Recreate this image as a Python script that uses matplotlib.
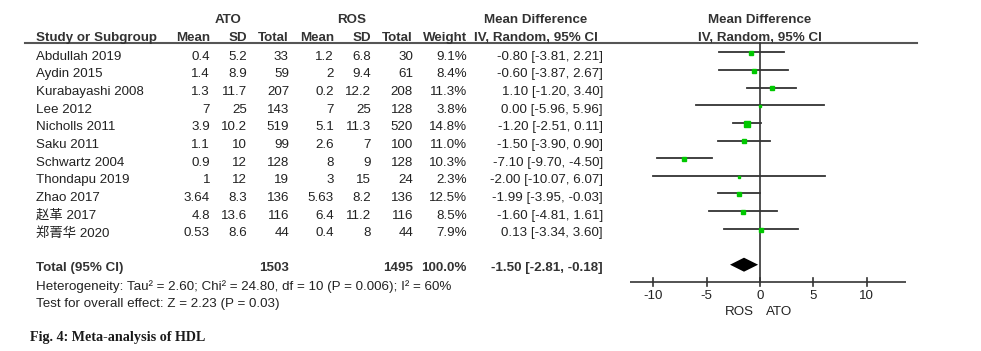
import numpy as np
import matplotlib
matplotlib.use("Agg")
import matplotlib.pyplot as plt

plt.rcParams["font.family"] = ["Liberation Sans", "Noto Sans CJK SC", "DejaVu Sans"]

studies = ["Abdullah 2019", "Aydin 2015", "Kurabayashi 2008", "Lee 2012", "Nicholls 2011",
           "Saku 2011", "Schwartz 2004", "Thondapu 2019", "Zhao 2017", "赵革 2017", "郑菁华 2020"]
ato_mean = ["0.4", "1.4", "1.3", "7", "3.9", "1.1", "0.9", "1", "3.64", "4.8", "0.53"]
ato_sd = ["5.2", "8.9", "11.7", "25", "10.2", "10", "12", "12", "8.3", "13.6", "8.6"]
ato_n = [33, 59, 207, 143, 519, 99, 128, 19, 136, 116, 44]
ros_mean = ["1.2", "2", "0.2", "7", "5.1", "2.6", "8", "3", "5.63", "6.4", "0.4"]
ros_sd = ["6.8", "9.4", "12.2", "25", "11.3", "7", "9", "15", "8.2", "11.2", "8"]
ros_n = [30, 61, 208, 128, 520, 100, 128, 24, 136, 116, 44]
weight = [9.1, 8.4, 11.3, 3.8, 14.8, 11.0, 10.3, 2.3, 12.5, 8.5, 7.9]
md = [-0.80, -0.60, 1.10, 0.00, -1.20, -1.50, -7.10, -2.00, -1.99, -1.60, 0.13]
lo = [-3.81, -3.87, -1.20, -5.96, -2.51, -3.90, -9.70, -10.07, -3.95, -4.81, -3.34]
hi = [2.21, 2.67, 3.40, 5.96, 0.11, 0.90, -4.50, 6.07, -0.03, 1.61, 3.60]
total_md, total_lo, total_hi = -1.50, -2.81, -0.18
total_ato, total_ros = 1503, 1495
ticks = [-10, -5, 0, 5, 10]

W, H = 981, 351
fig = plt.figure(figsize=(W / 100, H / 100), dpi=100)
ax = fig.add_axes([0, 0, 1, 1])
ax.set_xlim(0, W)
ax.set_ylim(H, 0)
ax.axis("off")

# forest panel: 0 -> px 760, 10 units -> 106.7 px
x0, x1 = 630, 906
scale = 10.67
fa = fig.add_axes([x0 / W, 0, (x1 - x0) / W, 1])
fa.set_xlim((x0 - 760) / scale, (x1 - 760) / scale)
fa.set_ylim(H, 0)
fa.axis("off")

tc = "#222222"
fs = 9.6
kw = dict(color=tc, fontsize=fs, va="center")
bk = dict(color="#333333", fontsize=fs, va="center", fontweight="bold")

# headers
ax.text(228, 20, "ATO", ha="center", **bk)
ax.text(352, 20, "ROS", ha="center", **bk)
ax.text(536, 20, "Mean Difference", ha="center", **bk)
ax.text(760, 20, "Mean Difference", ha="center", **bk)
hy = 38
ax.text(36, hy, "Study or Subgroup", ha="left", **bk)
for x, s in [(210, "Mean"), (247, "SD"), (289, "Total"), (334, "Mean"),
             (371, "SD"), (413, "Total"), (467, "Weight")]:
    ax.text(x, hy, s, ha="right", **bk)
ax.text(536, hy, "IV, Random, 95% CI", ha="center", **bk)
ax.text(760, hy, "IV, Random, 95% CI", ha="center", **bk)
ax.plot([25, 917], [43, 43], color="#555555", lw=1.5)

row0, step = 56.7, 17.66
for i, name in enumerate(studies):
    y = row0 + i * step
    ax.text(36, y, name, ha="left", **kw)
    ax.text(210, y, ato_mean[i], ha="right", **kw)
    ax.text(247, y, ato_sd[i], ha="right", **kw)
    ax.text(289, y, str(ato_n[i]), ha="right", **kw)
    ax.text(334, y, ros_mean[i], ha="right", **kw)
    ax.text(371, y, ros_sd[i], ha="right", **kw)
    ax.text(413, y, str(ros_n[i]), ha="right", **kw)
    ax.text(467, y, f"{weight[i]:.1f}%", ha="right", **kw)
    ax.text(603, y, f"{md[i]:.2f} [{lo[i]:.2f}, {hi[i]:.2f}]", ha="right", **kw)
    fy = y - 4.5
    fa.plot([lo[i], hi[i]], [fy, fy], color="#333333", lw=1.3)
    side = 1.35 * np.sqrt(weight[i]) * 0.72
    fa.plot(md[i], fy + 0.8, marker="s", ms=side, color="#00c800", mec="#00c800", zorder=3)

ty = 267.7
ax.text(36, ty, "Total (95% CI)", ha="left", **bk)
ax.text(289, ty, str(total_ato), ha="right", **bk)
ax.text(413, ty, str(total_ros), ha="right", **bk)
ax.text(467, ty, "100.0%", ha="right", **bk)
ax.text(603, ty, f"{total_md:.2f} [{total_lo:.2f}, {total_hi:.2f}]", ha="right", **bk)
ax.text(36, 286.7, "Heterogeneity: Tau² = 2.60; Chi² = 24.80, df = 10 (P = 0.006); I² = 60%",
        ha="left", **kw)
ax.text(36, 304, "Test for overall effect: Z = 2.23 (P = 0.03)", ha="left", **kw)

# diamond
dy = 264.7
fa.fill([total_lo, total_md, total_hi, total_md], [dy, dy - 7, dy, dy + 7],
        color="black", lw=0)

# zero line and axis
fa.plot([0, 0], [43, 282], color="#333333", lw=1.2)
fa.plot([(x0 - 760) / scale, (x1 - 760) / scale], [282, 282], color="#444444", lw=1.3)
for t in ticks:
    fa.plot([t, t], [277.5, 285.5], color="#333333", lw=1.2)
    fa.text(t, 296, str(t), ha="center", **kw)
ax.text(754, 312, "ROS", ha="right", **kw)
ax.text(766, 312, "ATO", ha="left", **kw)

ax.text(30, 338, "Fig. 4: Meta-analysis of HDL", ha="left", va="center",
        fontsize=10.2, fontweight="bold", color="#1a1a1a", family="Liberation Serif")

fig.savefig("out.png", dpi=100)
